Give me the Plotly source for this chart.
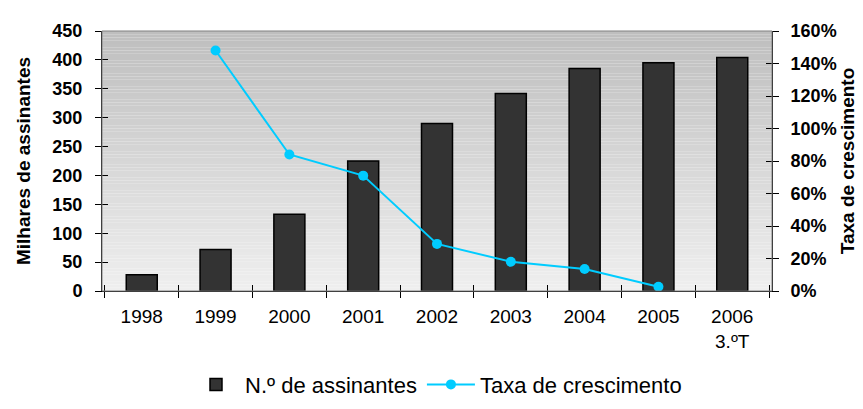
import plotly.graph_objects as go

# data
anos = ["1998", "1999", "2000", "2001", "2002", "2003", "2004", "2005", "2006<br>3.ºT"]
assinantes = [28, 72, 133, 225, 290, 342, 385, 395, 404]          # milhares
crescimento = [None, 148, 84, 71, 29, 18, 13.5, 2.6, None]         # %

left_ticks = list(range(0, 451, 50))
right_ticks = list(range(0, 161, 20))

font = "Liberation Sans"

fig = go.Figure()

fig.add_trace(go.Bar(
    x=anos, y=assinantes, name="N.º de assinantes",
    marker=dict(color="#333333", line=dict(color="#000000", width=1.5)),
    width=0.42,
))

fig.add_trace(go.Scatter(
    x=anos, y=crescimento, name="Taxa de crescimento", yaxis="y2",
    mode="lines+markers",
    line=dict(color="#00CCFF", width=2),
    marker=dict(color="#00CCFF", size=10),
))

# invisible traces so the overlay axes (inner half of the crossing ticks) get drawn
fig.add_trace(go.Scatter(x=anos, y=assinantes, xaxis="x2", yaxis="y3", mode="none",
                         showlegend=False, hoverinfo="skip"))
fig.add_trace(go.Scatter(x=anos, y=crescimento, xaxis="x2", yaxis="y4", mode="none",
                         showlegend=False, hoverinfo="skip"))

# vertical grey gradient behind the plot area
shapes = []
n = 80
top, bottom = 190, 239
for i in range(n):
    g = round(bottom + (top - bottom) * (i + 0.5) / n)
    shapes.append(dict(type="rect", xref="x domain", yref="y domain",
                       x0=0, x1=1, y0=i / n, y1=(i + 1) / n,
                       fillcolor=f"rgb({g},{g},{g})", line=dict(width=0),
                       layer="below"))
shapes.append(dict(type="rect", xref="x domain", yref="y domain",
                   x0=0, x1=1, y0=0, y1=1,
                   line=dict(color="#808080", width=1), layer="above"))

axis_common = dict(showgrid=False, zeroline=False, showline=True,
                   linecolor="black", linewidth=1, tickcolor="black", ticklen=6)

fig.update_layout(
    width=863, height=409,
    margin=dict(l=94, r=99, t=23, b=108),
    paper_bgcolor="white", plot_bgcolor="rgba(0,0,0,0)",
    font=dict(family=font, color="black", size=19),
    shapes=shapes,
    showlegend=True,
    legend=dict(orientation="h", x=0.5, xanchor="center", y=-0.36, yanchor="middle",
                font=dict(size=22), itemwidth=48, bgcolor="rgba(0,0,0,0)"),
    xaxis=dict(
        tickfont=dict(size=19), ticks="outside", tickson="boundaries",
        ticklabelstandoff=8, **axis_common,
    ),
    xaxis2=dict(
        overlaying="x", anchor="y", matches="x", ticks="inside", tickson="boundaries",
        showticklabels=False, **axis_common,
    ),
    yaxis=dict(
        range=[0, 450], tickvals=left_ticks,
        ticktext=[f"<b>{v}</b>" for v in left_ticks], tickfont=dict(size=18),
        title=dict(text="<b>Milhares de assinantes</b>", font=dict(size=19), standoff=16),
        ticks="outside", ticklabelstandoff=9, **axis_common,
    ),
    yaxis2=dict(
        range=[0, 160], tickvals=right_ticks, overlaying="y", side="right",
        ticktext=[f"<b>{v}%</b>" for v in right_ticks], tickfont=dict(size=18),
        title=dict(text="<b>Taxa de crescimento</b>", font=dict(size=19), standoff=0),
        ticks="outside", ticklabelstandoff=8, **axis_common,
    ),
    yaxis3=dict(
        range=[0, 450], tickvals=left_ticks, overlaying="y", side="left", anchor="x2",
        ticks="inside", showticklabels=False, **axis_common,
    ),
    yaxis4=dict(
        range=[0, 160], tickvals=right_ticks, overlaying="y", side="right", anchor="x2",
        ticks="inside", showticklabels=False, **axis_common,
    ),
)

fig.write_html("out.html")
